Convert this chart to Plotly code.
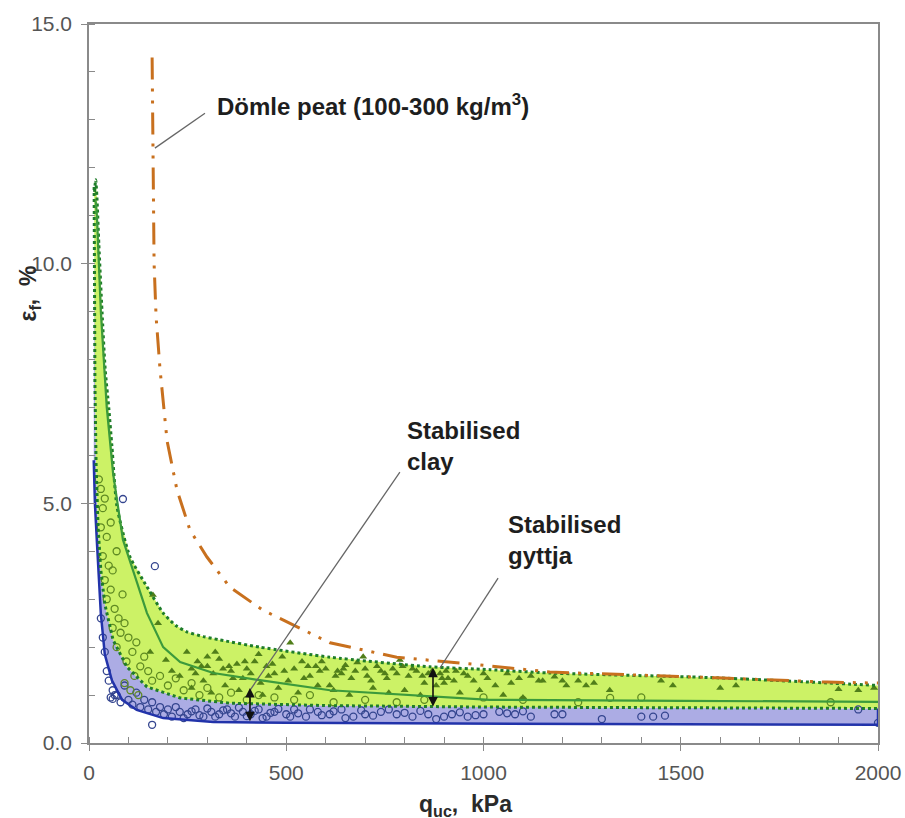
import plotly.graph_objects as go

# ---------------- data ----------------
# Stabilised gyttja/clay band: upper (dotted) boundary
upper_x = [14, 17, 20, 25, 33, 41, 50, 58, 71, 104, 147, 188, 220, 248, 290, 332, 433, 611, 864, 1016, 1168, 1592, 2000]
upper_y = [11.5, 11.75, 11.4, 10.4, 9.0, 7.8, 7.0, 6.2, 4.93, 3.88, 3.26, 2.71, 2.45, 2.32, 2.22, 2.15, 2.0, 1.79, 1.59, 1.53, 1.46, 1.36, 1.2]
# lower (dotted) boundary of the green band
lower_x = [13, 14, 15, 18, 23, 30, 40, 61, 96, 147, 231, 357, 600, 1000, 1500, 2000]
lower_y = [11.6, 9.5, 7.5, 5.8, 4.5, 3.6, 2.9, 2.15, 1.59, 1.17, 0.94, 0.83, 0.78, 0.75, 0.73, 0.72]
# mean curve (solid green)
mean_x = [17, 20, 30, 45, 61, 86, 122, 147, 188, 231, 315, 433, 611, 864, 1016, 1500, 2000]
mean_y = [11.3, 11.0, 9.0, 7.0, 5.63, 4.24, 3.34, 2.71, 2.0, 1.69, 1.46, 1.31, 1.1, 0.97, 0.90, 0.88, 0.86]
# lower blue boundary
blue_x = [12, 15, 20, 25, 30, 40, 58, 84, 121, 188, 315, 500, 1000, 1500, 2000]
blue_y = [5.9, 5.0, 4.2, 3.4, 2.7, 1.85, 1.31, 0.90, 0.69, 0.52, 0.44, 0.42, 0.40, 0.39, 0.38]
# Dömle peat curve
peat_x = [160, 162, 165, 170, 180, 198, 223, 256, 299, 357, 441, 611, 780, 991, 1168, 1592, 1871, 2000]
peat_y = [14.3, 12.3, 10.0, 8.9, 7.8, 6.3, 5.28, 4.44, 3.88, 3.25, 2.77, 2.09, 1.79, 1.63, 1.48, 1.36, 1.27, 1.25]
peat_out_x = [2040]
peat_out_y = [1.25]

# measured points: triangles
tri_x = [155, 162, 175, 195, 210, 230, 248, 260, 275, 290, 300, 315, 330, 345, 360, 375, 390, 400, 420, 435,
         450, 470, 490, 505, 510, 520, 540, 560, 575, 590, 610, 630, 650, 665, 680, 695, 715, 730, 750, 770,
         788, 810, 830, 850, 870, 890, 910, 930, 950, 975, 1000, 1030, 1060, 1090, 1120, 1150, 1180, 1210,
         1240, 1280, 1320, 1450, 1480, 1600, 1640, 1900, 1950, 1990, 260, 310, 380, 440, 480, 530, 580, 620,
         660, 720, 760, 800, 840, 880, 940, 990, 1050, 1100, 320, 355, 600, 640,
         270, 285, 340, 365, 395, 410, 455, 465, 495, 545, 555, 585, 625, 645, 675, 705, 740, 755, 780, 795,
         820, 845, 860, 895, 905, 925, 960, 1010, 1070, 1140, 1200, 1260, 300, 430, 700, 900]
tri_y = [1.9, 3.09, 2.5, 1.73, 1.5, 1.4, 1.9, 1.55, 1.7, 1.3, 1.6, 1.45, 1.75, 1.2, 1.5, 1.65, 1.35, 1.55, 1.7, 1.25,
         1.6, 1.45, 1.8, 1.3, 2.09, 1.55, 1.7, 1.4, 1.6, 1.7, 1.2, 1.5, 1.62, 1.35, 1.68, 1.8, 1.3, 1.6, 1.45, 1.55,
         1.73, 1.4, 1.5, 1.25, 1.5, 1.45, 1.35, 1.5, 1.45, 1.3, 1.45, 1.2, 1.45, 1.35, 1.4, 1.3, 1.38, 1.2,
         1.3, 1.25, 1.1, 1.3, 1.2, 1.15, 1.2, 1.12, 1.1, 1.15, 1.15, 1.05, 1.1, 1.0, 1.15, 1.05, 1.2, 1.1,
         1.0, 1.15, 1.05, 1.1, 1.0, 1.2, 1.05, 1.1, 1.0, 0.95, 1.9, 1.6, 1.55, 1.45,
         1.45, 1.6, 1.55, 1.35, 1.7, 1.45, 1.4, 1.65, 1.5, 1.35, 1.6, 1.5, 1.4, 1.55, 1.5, 1.4, 1.5, 1.35,
         1.45, 1.6, 1.55, 1.4, 1.45, 1.35, 1.5, 1.3, 1.4, 1.35, 1.25, 1.3, 1.3, 1.2, 1.8, 1.85, 1.55, 1.25]
# measured points: green circles
gc_x = [25, 30, 35, 40, 30, 45, 35, 50, 40, 55, 60, 45, 65, 75, 60, 80, 90, 100, 70, 110, 120, 95, 130, 140,
        150, 115, 160, 180, 200, 220, 240, 260, 280, 300, 330, 360, 400, 430, 470, 520, 560, 620, 700, 780,
        850, 1000, 1100, 1240, 1321, 1400, 1880, 55, 85, 70, 105, 125, 90]
gc_y = [5.5, 5.3, 4.9, 5.1, 4.5, 4.3, 3.9, 3.7, 3.4, 3.2, 3.6, 3.0, 2.8, 2.6, 2.4, 2.3, 2.5, 2.2, 2.0, 1.9, 2.1,
        1.7, 1.6, 1.8, 1.5, 1.4, 1.3, 1.4, 1.2, 1.35, 1.1, 1.25, 1.0, 1.15, 0.95, 1.05, 0.9, 1.0, 0.95, 0.9,
        1.0, 0.85, 0.9, 0.85, 0.9, 0.95, 0.9, 0.85, 0.94, 0.95, 0.85, 4.6, 3.1, 4.0, 1.1, 1.0, 1.25]
# measured points: blue circles
bc_x = [30, 35, 40, 45, 50, 60, 55, 70, 80, 90, 100, 110, 120, 130, 140, 150, 160, 170, 180, 190, 200, 210,
        230, 250, 270, 290, 310, 330, 350, 370, 390, 410, 430, 450, 470, 500, 520, 550, 580, 610, 640, 670,
        700, 740, 780, 820, 860, 880, 920, 960, 1000, 1040, 1080, 1120, 1180, 1200, 1300, 1400, 1430, 1460,
        1950, 2000, 167, 86, 160, 60, 65,
        220, 240, 260, 280, 300, 320, 340, 360, 380, 400, 420, 440, 460, 480, 510, 530, 560, 590, 620, 650,
        690, 720, 760, 800, 840, 900, 940, 980, 1060, 1100]
bc_y = [2.6, 2.2, 1.9, 1.5, 1.3, 1.1, 0.95, 1.0, 0.85, 1.2, 0.9, 0.8, 1.05, 0.75, 0.9, 0.7, 0.85, 0.65, 0.75,
        0.6, 0.7, 0.55, 0.65, 0.6, 0.7, 0.55, 0.65, 0.6, 0.7, 0.55, 0.65, 0.6, 0.7, 0.55, 0.65, 0.6, 0.7, 0.55,
        0.65, 0.6, 0.7, 0.55, 0.6, 0.65, 0.6, 0.55, 0.6, 0.5, 0.6, 0.55, 0.6, 0.65, 0.6, 0.55, 0.6, 0.6, 0.5,
        0.55, 0.55, 0.57, 0.7, 0.42, 3.69, 5.09, 0.38, 0.92, 1.0,
        0.75, 0.52, 0.66, 0.58, 0.72, 0.55, 0.68, 0.62, 0.74, 0.56, 0.67, 0.52, 0.63, 0.71, 0.55, 0.62, 0.7,
        0.58, 0.66, 0.52, 0.68, 0.57, 0.7, 0.63, 0.67, 0.55, 0.64, 0.58, 0.62, 0.66]

# double arrows (x, y_bottom, y_top)
arr_x = [408, 872]
arr_y0 = [0.42, 0.73]
arr_y1 = [1.15, 1.57]

# labels and leader lines
lab_text = ["Dömle peat (100-300 kg/m<sup>3</sup>)", "Stabilised<br>clay", "Stabilised<br>gyttja"]
lab_x = [319, 801, 1057]
lab_y = [13.31, 6.2, 4.24]
lead_x0 = [294, 788, 1037]
lead_y0 = [13.14, 5.65, 3.44]
lead_x1 = [167, 408, 890]
lead_y1 = [12.41, 1.1, 1.57]

x_ticks = [0, 500, 1000, 1500, 2000]
y_ticks = [0, 5, 10, 15]

# ---------------- figure ----------------
GREEN_FILL = "rgb(204,242,102)"
BLUE_FILL = "rgb(172,172,228)"
DOT_GREEN = "#1f7d2a"
MEAN_GREEN = "#3c9a3c"
BLUE_LINE = "#2233aa"
ORANGE = "#c8701e"

fig = go.Figure()

fig.add_trace(go.Scatter(x=blue_x + lower_x[::-1], y=blue_y + lower_y[::-1], fill="toself",
                         fillcolor=BLUE_FILL, line=dict(width=0), mode="lines", hoverinfo="skip"))
fig.add_trace(go.Scatter(x=upper_x + lower_x[::-1], y=upper_y + lower_y[::-1], fill="toself",
                         fillcolor=GREEN_FILL, line=dict(width=0), mode="lines", hoverinfo="skip"))

fig.add_trace(go.Scatter(x=bc_x, y=bc_y, mode="markers",
                         marker=dict(symbol="circle-open", size=7, color="#34458f", line=dict(width=1.3))))
fig.add_trace(go.Scatter(x=gc_x, y=gc_y, mode="markers",
                         marker=dict(symbol="circle-open", size=7, color="#5f8a22", line=dict(width=1.3))))
fig.add_trace(go.Scatter(x=tri_x, y=tri_y, mode="markers",
                         marker=dict(symbol="triangle-up", size=7, color="#507e1a")))

fig.add_trace(go.Scatter(x=blue_x + [2000], y=blue_y + [lower_y[-1]], mode="lines",
                         line=dict(color=BLUE_LINE, width=2.5)))
fig.add_trace(go.Scatter(x=lower_x, y=lower_y, mode="lines",
                         line=dict(color=DOT_GREEN, width=3, dash="dot")))
fig.add_trace(go.Scatter(x=upper_x, y=upper_y, mode="lines", line_shape="spline",
                         line=dict(color=DOT_GREEN, width=3, dash="dot", smoothing=0.6)))
fig.add_trace(go.Scatter(x=mean_x, y=mean_y, mode="lines",
                         line=dict(color=MEAN_GREEN, width=2.2)))
fig.add_trace(go.Scatter(x=peat_x, y=peat_y, mode="lines",
                         line=dict(color=ORANGE, width=3, dash="22px,9px,3px,9px,3px,9px")))
fig.add_trace(go.Scatter(x=peat_out_x, y=peat_out_y, mode="markers", cliponaxis=False,
                         marker=dict(color=ORANGE, size=4)))

annotations = []
for t, x, y in zip(lab_text, lab_x, lab_y):
    annotations.append(dict(x=x, y=y, xref="x", yref="y", text="<b>%s</b>" % t, showarrow=False,
                            xanchor="left", yanchor="middle", align="left",
                            font=dict(family="Liberation Sans, Arial", size=24, color="#1e1e1e")))
for x, y0, y1 in zip(arr_x, arr_y0, arr_y1):
    annotations.append(dict(x=x, y=y1, ax=x, ay=y0, xref="x", yref="y", axref="x", ayref="y",
                            text="", showarrow=True, arrowhead=2, arrowside="end+start",
                            arrowsize=1.2, arrowwidth=1.6, arrowcolor="#111"))
annotations.append(dict(x=-0.075, y=0.625, xref="paper", yref="paper", textangle=-90,
                        xanchor="center", yanchor="middle",
                        text="<b>ε<sub>f</sub>,  %</b>", showarrow=False,
                        font=dict(family="Liberation Sans, Arial", size=23, color="#2a2a2a")))
annotations.append(dict(x=0.477, y=-0.087, xref="paper", yref="paper",
                        text="<b>q<sub>uc</sub>,  kPa</b>", showarrow=False, yanchor="middle",
                        xanchor="center",
                        font=dict(family="Liberation Sans, Arial", size=23, color="#2a2a2a")))

shapes = []
for x0, y0, x1, y1 in zip(lead_x0, lead_y0, lead_x1, lead_y1):
    shapes.append(dict(type="line", x0=x0, y0=y0, x1=x1, y1=y1, xref="x", yref="y",
                       line=dict(color="#666", width=1.3)))

axis_common = dict(showgrid=False, zeroline=False, showline=True, linecolor="#8a8a8a", linewidth=1.5,
                   mirror=True, ticks="outside", ticklen=6, tickcolor="#8a8a8a", tickwidth=1.3,
                   automargin=False,
                   tickfont=dict(family="Liberation Sans, Arial", size=21, color="#555"))

fig.update_layout(
    width=905, height=818,
    margin=dict(l=89, r=27, t=24, b=75),
    paper_bgcolor="white", plot_bgcolor="white",
    showlegend=False,
    annotations=annotations, shapes=shapes,
    xaxis=dict(range=[0, 2000], tickvals=x_ticks, ticktext=[str(v) for v in x_ticks],
               ticklabelstandoff=4,
               minor=dict(dtick=100, ticks="inside", ticklen=6, tickcolor="#8a8a8a"),
               **axis_common),
    yaxis=dict(range=[0, 15], tickvals=y_ticks, ticktext=["%.1f" % v for v in y_ticks],
               ticklabelstandoff=5,
               minor=dict(dtick=1, ticks="inside", ticklen=6, tickcolor="#8a8a8a"),
               **axis_common),
)

# remove the page's default body margin so the figure fills the window exactly
fig.write_html("out.html", config={"displayModeBar": False},
               post_script="document.body.style.margin='0';document.body.style.overflow='hidden';")
